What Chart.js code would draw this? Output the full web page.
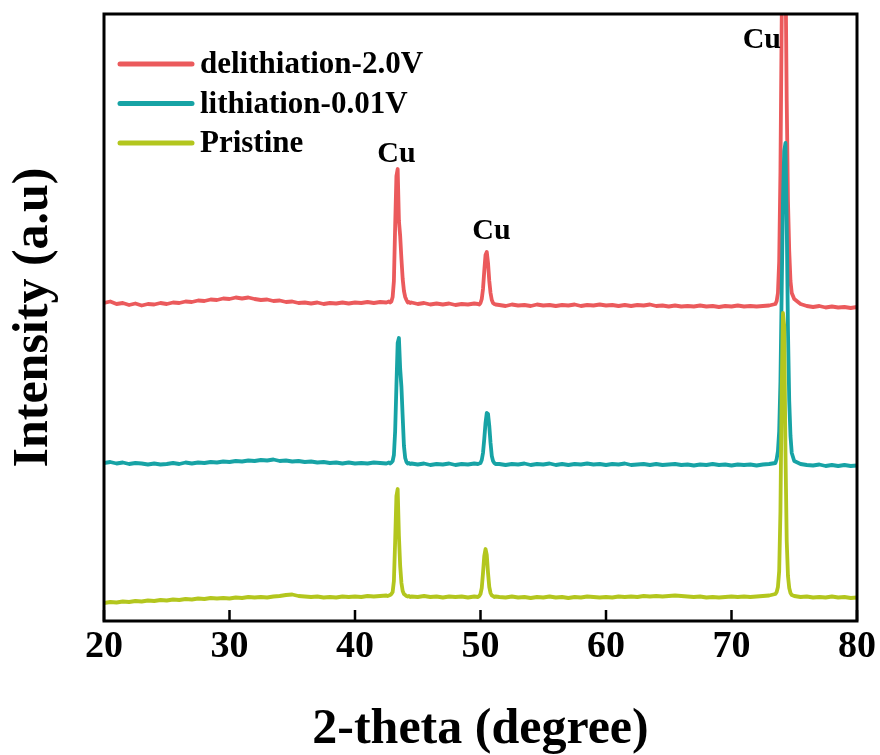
<!DOCTYPE html>
<html>
<head>
<meta charset="utf-8">
<script src="https://cdn.jsdelivr.net/npm/chart.js@4.4.0/dist/chart.umd.min.js"></script>
<style>
  body { margin: 0; background: #fff; }
  canvas { display: block; }
</style>
</head>
<body>
<canvas id="chart" width="880" height="755"></canvas>
<script>
// 2-theta grid (degrees), denser around the Cu peaks
const twoTheta = [
  20,20.5,21,21.5,22,22.5,23,23.5,24,24.5,25,25.5,26,26.5,27,27.5,28,28.5,29,29.5,30,30.5,31,31.5,32,32.5,33,33.5,34,34.5,35,35.5,36,36.5,37,37.5,38,38.5,39,39.5,40,40.5,41,41.5,42,42.5,
  42.6,42.7,42.8,42.9,43.0,43.1,43.2,43.3,43.4,43.5,43.6,43.7,43.8,43.9,44.0,44.1,44.2,44.3,44.4,
  44.5,45,45.5,46,46.5,47,47.5,48,48.5,49,49.5,
  49.8,49.9,50.0,50.1,50.2,50.3,50.4,50.5,50.6,50.7,50.8,50.9,51.0,51.1,51.2,
  51.5,52,52.5,53,53.5,54,54.5,55,55.5,56,56.5,57,57.5,58,58.5,59,59.5,60,60.5,61,61.5,62,62.5,63,63.5,64,64.5,65,65.5,66,66.5,67,67.5,68,68.5,69,69.5,70,70.5,71,71.5,72,72.5,73,73.5,
  73.6,73.7,73.8,73.9,74.0,74.1,74.2,74.3,74.4,74.5,74.6,74.7,74.8,
  75,75.5,76,76.5,77,77.5,78,78.5,79,79.5,80
];

// stacked intensities (a.u.)
const delithiation = [
  318,319.5,317,318,316,317.5,315.5,317,316.5,318,317,318.5,318,319.5,319,320.5,320,321.5,321,322.5,322,323.5,322.5,323.5,322,321,321.5,320,320.5,319,319.5,318,318.5,317.5,318.5,317,318,317.5,318.5,317.5,318.5,318,319,318,319,318.5,
  319,319.5,318.5,319.5,324,340,395,445,452,400,385,362,342,330,324,321,318.5,319,318,
  318.5,317,318,316.5,317.5,316.5,317.5,316,317,316.5,317.5,
  317,316.5,318,322,332,350,366,369,358,340,328,321,318,317,316.5,
  316,315,316.5,315.5,316,315,316.5,315.5,316,315,316,315.5,316.5,315,316,315.5,316.5,315.5,316,315,316,315,316,315.5,316.5,315,315.5,314.5,315.5,314.5,315,314.5,315.5,314.5,315,314,315,314.5,315.5,314.5,315,314.5,315,315.5,317,
  320,328,360,450,600,720,740,660,520,420,370,340,328,
  322,317,315,314,315,313.5,314.5,313.5,314,313,314
];

const lithiation = [
  158,159,157.5,158.5,157,158,157.5,156.5,157.5,156.5,157,158,157,158.5,157.5,158.5,158,159,158.5,159.5,159,160,159.5,160.5,160,161,160.5,161.5,160,160.5,159.5,160,159,159.5,158.5,159,158,158.5,157.5,158.5,157.5,158,157.5,158.5,158,157.5,
  158,158.5,157.5,158.5,160,166,190,235,278,283,252,234,204,175,163,159,157.5,158,157,
  157.5,156.5,157.5,156,157,156.5,157.5,156,157,156.5,157.5,
  157,157.5,158,161,168,182,198,208,207,195,178,165,160,158,157,
  157,156,157,156.5,157.5,156,157,156.5,157.5,156,157,156,157,156.5,157.5,156.5,157,156,157,156.5,157.5,156,156.5,157,156,157,156,156.5,157,156,156.5,155.5,156.5,156,157,156,156.5,155.5,156.5,156,156.5,155.5,156.5,157,158,
  162,170,190,240,330,420,470,478,400,290,220,185,168,
  160,157,156,155.5,156.5,155,156,155,156,155,155.5
];

const pristine = [
  18,19,18.5,19.5,19,20,19.5,20.5,20,21,20.5,21.5,21,22,21.5,22.5,22,23,22.5,23,22.5,23.5,23,24,23.5,24,23.5,24.5,25,26,26.5,25,24.5,24,24.5,23.5,24,23.5,24.5,24,24.5,24,25,24.5,25,25.5,
  25,25.5,26,27,29,40,80,125,132,85,55,38,30,27,26,25,24.5,25,24,
  24.5,24,25,24,24.5,23.5,24.5,24,24.5,23.5,24.5,
  24,25,27,33,48,65,72,66,48,34,28,25.5,25,24,24.5,
  24,23.5,24.5,23.5,24,23,24,23.5,24.5,23.5,24,23,24,23.5,24.5,24,23.5,24,23.5,24.5,24,24.5,24,25,24.5,25,24.5,25,25.5,25,24.5,24,24.5,23.5,24,23.5,24,24.5,24,24.5,24,24.5,25,25.5,27,
  29,34,50,110,230,308,295,170,80,45,33,28,26,
  25,24,24.5,23.5,24,23.5,24.5,23.5,24,23,23.5
];

const seriesNames = ['delithiation-2.0V', 'lithiation-0.01V', 'Pristine'];
const seriesColors = ['#EB5A5C', '#17A3A5', '#B3C61E'];
const xTicks = [20, 30, 40, 50, 60, 70, 80];

// Cu reflection labels (2-theta, intensity)
const peakLabels = [
  { text: 'Cu', x: 43.3, y: 467 },
  { text: 'Cu', x: 50.88, y: 390 },
  { text: 'Cu', x: 72.42, y: 581 }
];

const serif = '"Liberation Serif", "Times New Roman", Times, serif';

function toPoints(values) {
  return values.map((v, i) => ({ x: twoTheta[i], y: v }));
}

const frame = {
  id: 'frame',
  afterDatasetsDraw(chart) {
    const { ctx, chartArea: a, scales: { x, y } } = chart;
    ctx.save();
    ctx.strokeStyle = '#000';
    ctx.lineWidth = 2.5;
    ctx.beginPath();
    xTicks.forEach(v => {
      const px = x.getPixelForValue(v);
      ctx.moveTo(px, a.bottom);
      ctx.lineTo(px, a.bottom - 11);
    });
    ctx.stroke();

    ctx.lineWidth = 3;
    ctx.strokeRect(a.left, a.top, a.right - a.left, a.bottom - a.top);

    ctx.fillStyle = '#000';
    ctx.font = 'bold 30px ' + serif;
    ctx.textAlign = 'center';
    ctx.textBaseline = 'middle';
    peakLabels.forEach(p => {
      ctx.fillText(p.text, x.getPixelForValue(p.x), y.getPixelForValue(p.y));
    });

    // legend, top left inside the frame
    ctx.font = 'bold 31px ' + serif;
    ctx.textAlign = 'left';
    ctx.lineCap = 'round';
    ctx.lineWidth = 5;
    chart.data.datasets.forEach((ds, i) => {
      const ly = a.top + 50 + i * 39.5;
      ctx.strokeStyle = ds.borderColor;
      ctx.beginPath();
      ctx.moveTo(a.left + 16, ly);
      ctx.lineTo(a.left + 88, ly);
      ctx.stroke();
      ctx.fillText(ds.label, a.left + 96, ly + 1);
    });
    ctx.restore();
  }
};

new Chart(document.getElementById('chart'), {
  type: 'line',
  data: {
    datasets: [
      { label: seriesNames[0], data: toPoints(delithiation), borderColor: seriesColors[0], order: 3 },
      { label: seriesNames[1], data: toPoints(lithiation), borderColor: seriesColors[1], order: 2 },
      { label: seriesNames[2], data: toPoints(pristine), borderColor: seriesColors[2], order: 1 }
    ]
  },
  options: {
    responsive: false,
    animation: false,
    elements: {
      line: { borderWidth: 3.8, tension: 0, fill: false, borderJoinStyle: 'round', borderCapStyle: 'round' },
      point: { radius: 0 }
    },
    layout: { padding: { top: 14, right: 23, left: 0, bottom: 0 } },
    plugins: {
      legend: { display: false },
      tooltip: { enabled: false }
    },
    scales: {
      x: {
        type: 'linear',
        min: 20,
        max: 80,
        afterFit: s => { s.height = 134; },
        afterBuildTicks: s => { s.ticks = xTicks.map(v => ({ value: v })); },
        grid: { display: false, drawTicks: false },
        border: { display: false },
        ticks: {
          color: '#000',
          padding: 3,
          maxRotation: 0,
          font: { family: serif, size: 38, weight: 'bold' }
        },
        title: {
          display: true,
          text: '2-theta (degree)',
          color: '#000',
          padding: { top: 0, bottom: -5 },
          font: { family: serif, size: 50, weight: 'bold' }
        }
      },
      y: {
        min: 0,
        max: 607,
        afterFit: s => { s.width = 104; },
        grid: { display: false, drawTicks: false },
        border: { display: false },
        ticks: { display: false },
        title: {
          display: true,
          text: 'Intensity (a.u)',
          color: '#000',
          padding: { top: 4, bottom: 0 },
          font: { family: serif, size: 50, weight: 'bold' }
        }
      }
    }
  },
  plugins: [frame]
});
</script>
</body>
</html>
